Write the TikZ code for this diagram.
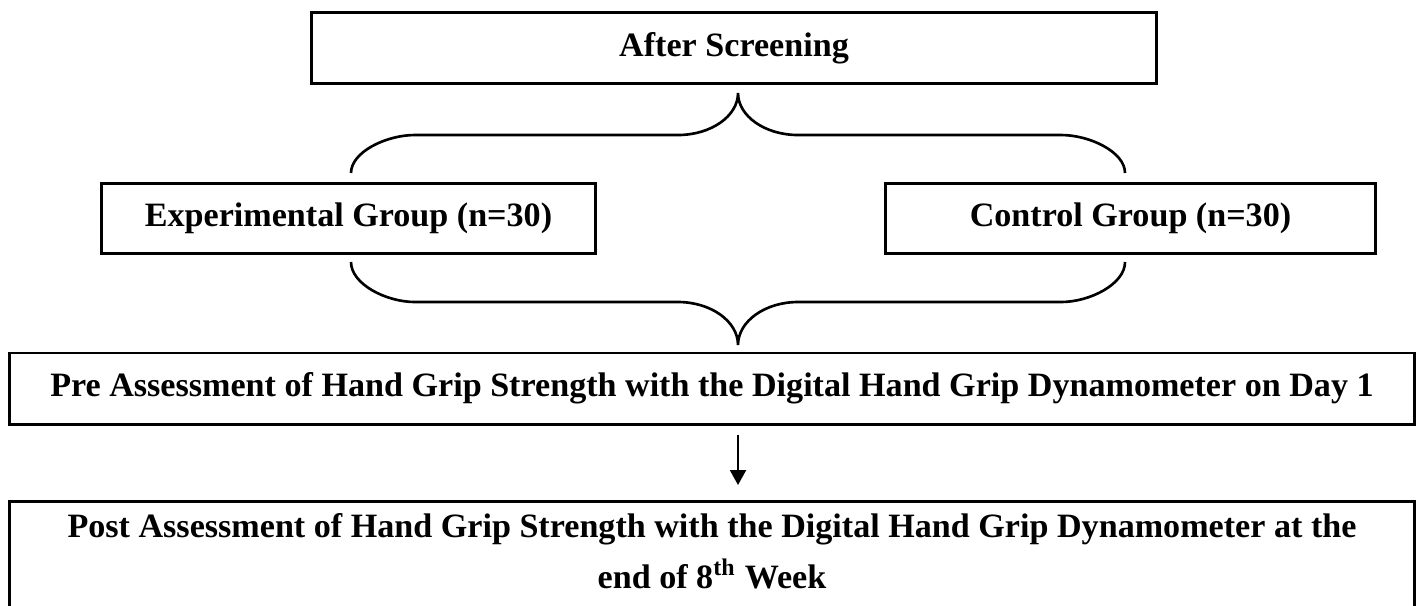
\documentclass[tikz,border=0pt]{standalone}
\usepackage{fontspec}
\setmainfont{Liberation Serif}
\usetikzlibrary{arrows.meta}
\tikzset{
  stagebox/.style={draw,line width=0.85pt,inner sep=0,align=center,
    font=\fontsize{9.7}{14.4}\selectfont\bfseries},
  bracket/.style={line width=0.75pt}
}
\newcommand{\groupbrace}[3]{% end y, bar y, tip y   (pixel units)
  \draw[bracket] (351,#1) .. controls (351,{#1+0.55*(#2-#1)}) and (386,#2) .. (415,#2) -- (678,#2)
    .. controls (711,#2) and (738,{#2+0.45*(#3-#2)}) .. (738,#3)
    .. controls (738,{#2+0.45*(#3-#2)}) and (765,#2) .. (798,#2)
    -- (1061,#2) .. controls (1090,#2) and (1125,{#1+0.55*(#2-#1)}) .. (1125,#1);}

\begin{document}
\begin{tikzpicture}[x=0.01cm,y=-0.01cm,>={Triangle[length=0.15cm,width=0.16cm]}]
  \useasboundingbox (0,0) rectangle (1422,605);
  \clip (0,0) rectangle (1422,605);
  % ---- screening and the two groups ----
  \node[stagebox,minimum width=8.44cm,minimum height=0.70cm] (screen) at (734,48) {After Screening};
  \groupbrace{173}{135}{93}
  \node[stagebox,minimum width=4.93cm,minimum height=0.69cm] (expgrp) at (348.5,218.5) {Experimental Group (n=30)};
  \node[stagebox,minimum width=4.89cm,minimum height=0.69cm] (ctrlgrp) at (1130.5,218.5) {Control Group (n=30)};
  \groupbrace{262}{302}{345}
  % ---- assessments ----
  \node[stagebox,minimum width=14.04cm,minimum height=0.71cm] (preass) at (712,388.5)
    {Pre Assessment of Hand Grip Strength with the Digital Hand Grip Dynamometer on Day 1};
  \node[stagebox,minimum width=14.04cm,minimum height=1.15cm,text depth=0.16cm,anchor=north] (postass) at (712,500)
    {Post Assessment of Hand Grip Strength with the Digital Hand Grip Dynamometer at the\\
     end of 8\textsuperscript{th} Week};
  \coordinate (arrx) at (738,0);
  \draw[->,line width=0.6pt,shorten <=0.09cm,shorten >=0.15cm] (preass.south -| arrx) -- (postass.north -| arrx);
\end{tikzpicture}
\end{document}
